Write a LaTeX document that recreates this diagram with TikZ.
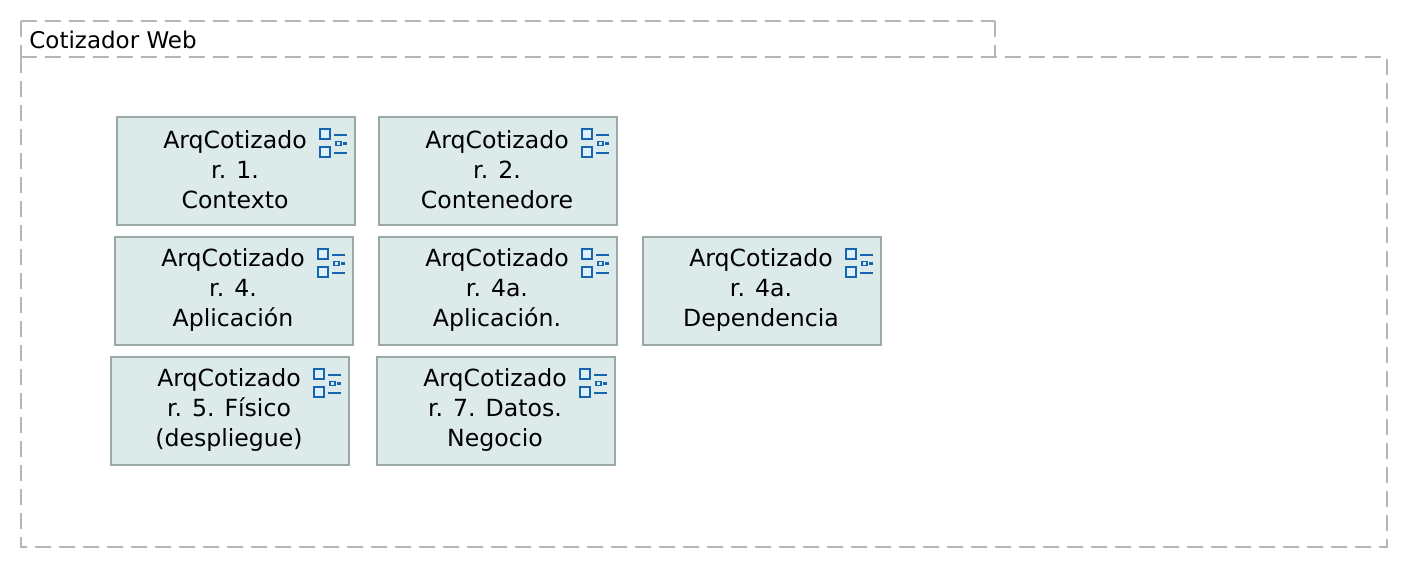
\documentclass[tikz,border=0pt]{standalone}
\usepackage{fontspec}
\setmainfont{DejaVu Sans}
\definecolor{pkggray}{HTML}{B6B6B6}
\definecolor{boxborder}{HTML}{9BA8A8}
\definecolor{boxfill}{HTML}{DCEAEA}
\definecolor{iconblue}{HTML}{1565B0}
\definecolor{iconfill}{HTML}{DDF0FA}
\tikzset{
  x=0.5pt,y=-0.5pt,
  pkgline/.style={draw=pkggray,line width=1.15pt,dash pattern=on 8pt off 4pt},
  pkglabel/.style={inner sep=0pt,anchor=west,font=\fontsize{11.5}{15}\selectfont},
  viewbox/.style={draw=boxborder,fill=boxfill,line width=1pt,minimum width=119pt,minimum height=54pt,inner sep=0pt,anchor=north west},
  viewtext/.style={inner sep=0pt,align=center,font=\fontsize{11.8}{15}\selectfont},
  iconsq/.style={draw=iconblue,fill=iconfill,line width=1.15pt},
  iconln/.style={draw=iconblue,line width=1.1pt},
  viewicon/.pic={
    \draw[iconsq] (-36,13) rectangle (-26,23);
    \draw[iconsq] (-36,31) rectangle (-26,41);
    \draw[iconln] (-22,19) -- (-9,19);
    \draw[iconln] (-22,37) -- (-9,37);
    \draw[iconln,line width=0.9pt] (-20,25.5) rectangle (-15,29.5);
    \draw[iconln] (-13,27.5) -- (-9,27.5);
  }
}
\begin{document}
\begin{tikzpicture}
\useasboundingbox (0,0) rectangle (1408,568);
\coordinate (tabnw) at (21,21);
\coordinate (tabsw) at (21,57);
\coordinate (tabne) at (995,21);
\coordinate (tabse) at (995,57);
\draw[pkgline] (tabnw) -- (tabsw);
\draw[pkgline] (tabnw) -- (tabne);
\draw[pkgline] (tabne) -- (tabse);
\draw[pkgline] (tabsw) -- (1387,57) -- (1387,547) -- (21,547) -- cycle;
\node[pkglabel] (title) at (29,40) {Cotizador Web};
\node[viewbox] (v1) at (116,116) {};
\node[viewbox] (v2) at (378,116) {};
\node[viewbox] (v3) at (114,236) {};
\node[viewbox] (v4) at (378,236) {};
\node[viewbox] (v5) at (642,236) {};
\node[viewbox] (v6) at (110,356) {};
\node[viewbox] (v7) at (376,356) {};
\node[viewtext] (t1) at ([xshift=-0.5pt,yshift=0.75pt]v1.center) {ArqCotizado\\r. 1.\\Contexto};
\node[viewtext] (t2) at ([xshift=-0.5pt,yshift=0.75pt]v2.center) {ArqCotizado\\r. 2.\\Contenedore};
\node[viewtext] (t3) at ([xshift=-0.5pt,yshift=0.75pt]v3.center) {ArqCotizado\\r. 4.\\Aplicación};
\node[viewtext] (t4) at ([xshift=-0.5pt,yshift=0.75pt]v4.center) {ArqCotizado\\r. 4a.\\Aplicación.};
\node[viewtext] (t5) at ([xshift=-0.5pt,yshift=0.75pt]v5.center) {ArqCotizado\\r. 4a.\\Dependencia};
\node[viewtext] (t6) at ([xshift=-0.5pt,yshift=0.75pt]v6.center) {ArqCotizado\\r. 5. Físico\\(despliegue)};
\node[viewtext] (t7) at ([xshift=-0.5pt,yshift=0.75pt]v7.center) {ArqCotizado\\r. 7. Datos.\\Negocio};
\foreach \n in {v1,v2,v3,v4,v5,v6,v7} \pic at (\n.north east) {viewicon};
\end{tikzpicture}
\end{document}
